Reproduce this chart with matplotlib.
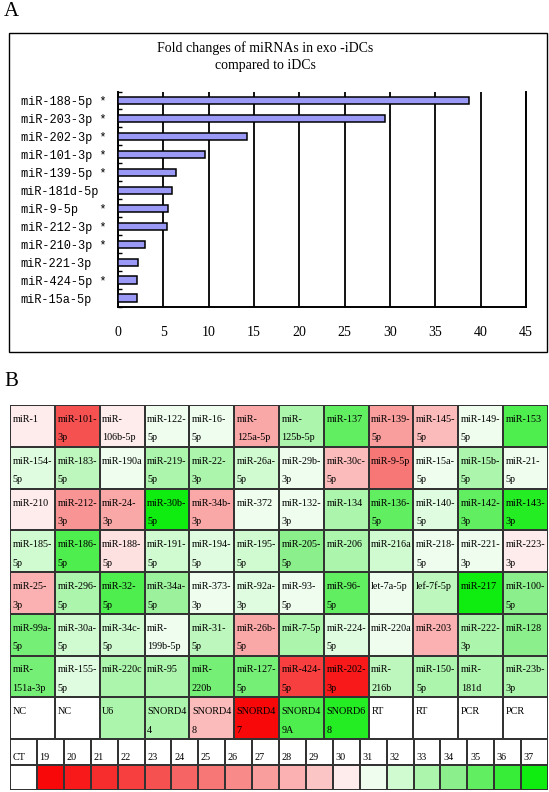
import numpy as np
import matplotlib
import matplotlib.pyplot as plt
from matplotlib.colors import LinearSegmentedColormap, Normalize
from matplotlib.patches import Rectangle

matplotlib.use('Agg')

# ---- panel A data ----
mirnas = ["miR-188-5p *", "miR-203-3p *", "miR-202-3p *", "miR-101-3p *",
          "miR-139-5p *", "miR-181d-5p", "miR-9-5p   *", "miR-212-3p *",
          "miR-210-3p *", "miR-221-3p", "miR-424-5p *", "miR-15a-5p"]
fold_change = [38.7, 29.5, 14.25, 9.55, 6.4, 5.98, 5.5, 5.4, 3.03, 2.25, 2.14, 2.14]
x_ticks = [0, 5, 10, 15, 20, 25, 30, 35, 40, 45]

# ---- panel B data ----
cell_labels = [
    ["miR-1", "miR-101-\n3p", "miR-\n106b-5p", "miR-122-\n5p", "miR-16-\n5p", "miR-\n125a-5p",
     "miR-\n125b-5p", "miR-137", "miR-139-\n5p", "miR-145-\n5p", "miR-149-\n5p", "miR-153"],
    ["miR-154-\n5p", "miR-183-\n5p", "miR-190a", "miR-219-\n5p", "miR-22-\n3p", "miR-26a-\n5p",
     "miR-29b-\n3p", "miR-30c-\n5p", "miR-9-5p", "miR-15a-\n5p", "miR-15b-\n5p", "miR-21-\n5p"],
    ["miR-210", "miR-212-\n3p", "miR-24-\n3p", "miR-30b-\n5p", "miR-34b-\n3p", "miR-372",
     "miR-132-\n3p", "miR-134", "miR-136-\n5p", "miR-140-\n5p", "miR-142-\n3p", "miR-143-\n3p"],
    ["miR-185-\n5p", "miR-186-\n5p", "miR-188-\n5p", "miR-191-\n5p", "miR-194-\n5p", "miR-195-\n5p",
     "miR-205-\n5p", "miR-206", "miR-216a", "miR-218-\n5p", "miR-221-\n3p", "miR-223-\n3p"],
    ["miR-25-\n3p", "miR-296-\n5p", "miR-32-\n5p", "miR-34a-\n5p", "miR-373-\n3p", "miR-92a-\n3p",
     "miR-93-\n5p", "miR-96-\n5p", "let-7a-5p", "lef-7f-5p", "miR-217", "miR-100-\n5p"],
    ["miR-99a-\n5p", "miR-30a-\n5p", "miR-34c-\n5p", "miR-\n199b-5p", "miR-31-\n5p", "miR-26b-\n5p",
     "miR-7-5p", "miR-224-\n5p", "miR-220a", "miR-203", "miR-222-\n3p", "miR-128"],
    ["miR-\n151a-3p", "miR-155-\n5p", "miR-220c", "miR-95", "miR-\n220b", "miR-127-\n5p",
     "miR-424-\n5p", "miR-202-\n3p", "miR-\n216b", "miR-150-\n5p", "miR-\n181d", "miR-23b-\n3p"],
    ["NC", "NC", "U6", "SNORD4\n4", "SNORD4\n8", "SNORD4\n7",
     "SNORD4\n9A", "SNORD6\n8", "RT", "RT", "PCR", "PCR"],
]
nan = np.nan
ct_values = [
    [30, 23, 30, 31, 31, 27.5, 33, 35, 27, 28.5, 31, 35.5],
    [31.5, 32.5, 31, 33, 33, 32, 31, 28.5, 25, 31, 33, 31],
    [30, 26.5, 27.5, 37, 27.5, 31, 31, 33, 35, 31.5, 35, 36.5],
    [32, 35.5, 29.7, 32, 31.5, 32, 34, 33, 32, 31, 31, 30],
    [28, 33, 35.5, 33.5, 31, 31.5, 31, 35, 31, 32.5, 37, 34],
    [34.5, 32, 32, 31, 32.5, 27.5, 33, 31.5, 31, 28, 33, 34],
    [34.5, 31.5, 33, 33, 34.5, 34.5, 22, 20, 32.5, 33, 33, 33],
    [nan, nan, 33, 33, 28.5, 19, 35.5, 36.5, nan, nan, nan, nan],
]
ct_levels = list(range(19, 38))

# red -> white -> green scale on CT 19..37
ct_min, ct_max = 19, 37
anchors = [(19, "#f80808"), (24, "#f66464"), (29, "#fcc4c4"), (30.5, "#ffffff"),
           (32, "#d0fad0"), (34, "#8cf08c"), (37, "#0fec0f")]
cmap = LinearSegmentedColormap.from_list(
    "ct", [((v - ct_min) / (ct_max - ct_min), c) for v, c in anchors])
cmap.set_bad("white")
norm = Normalize(ct_min, ct_max)

W, H = 549, 792
fig = plt.figure(figsize=(W / 100, H / 100), dpi=100)
serif = "Liberation Serif"

def fx(px):
    return px / W

def fy(py):
    return 1 - py / H

# ---------------- Panel A ----------------
fig.text(fx(4), fy(12), "A", fontsize=15, family=serif, va="center", ha="left")
fig.patches.append(Rectangle((fx(9), fy(352)), fx(538), 319 / H, transform=fig.transFigure,
                             fill=False, edgecolor="black", lw=1.0))
fig.text(fx(265), fy(48), "Fold changes of miRNAs in exo -iDCs", fontsize=10, family=serif,
         ha="center", va="center")
fig.text(fx(265), fy(66), "compared to iDCs", fontsize=10, family=serif, ha="center", va="center")

ax = fig.add_axes([fx(118), fy(307), fx(408), 215.5 / H])
ypos = np.arange(len(mirnas))
ax.barh(ypos, fold_change, height=0.4, color="#9a9af6", edgecolor="black", lw=1.1, zorder=3)
ax.set_xlim(0, 45)
ax.set_ylim(len(mirnas) - 0.5, -0.5)
ax.set_xticks(x_ticks)
ax.set_xticklabels([str(t) for t in x_ticks], family=serif, fontsize=10)
ax.tick_params(axis="x", length=0, pad=14)
ax.set_yticks(ypos)
ax.set_yticklabels(mirnas, family="Liberation Mono", fontsize=8.6)
for lab in ax.get_yticklabels():
    lab.set_horizontalalignment("left")
ax.tick_params(axis="y", which="major", length=0, pad=70)
ax.set_yticks(np.arange(-0.5, len(mirnas), 1.0), minor=True)
ax.tick_params(axis="y", which="minor", direction="in", length=3, width=1.0, color="black")
ax.grid(axis="x", color="black", lw=1.3, zorder=1)
ax.spines["top"].set_visible(False)
for s in ["left", "bottom", "right"]:
    ax.spines[s].set_linewidth(1.4)
    ax.spines[s].set_color("black")

# ---------------- Panel B ----------------
fig.text(fx(4), fy(381), "B", fontsize=15, family=serif, va="center", ha="left")

n_rows, n_cols = len(cell_labels), len(cell_labels[0])
grid_top, grid_bot = 405, 739
row_px = (grid_bot - grid_top) / n_rows
col_px = 538 / n_cols
axh = fig.add_axes([fx(10), fy(grid_bot), fx(538), (grid_bot - grid_top) / H])
axh.pcolormesh(np.ma.masked_invalid(np.array(ct_values, dtype=float)), cmap=cmap, norm=norm,
               edgecolors="#333333", linewidth=1.2)
axh.set_xlim(0, n_cols)
axh.set_ylim(n_rows, 0)
axh.axis("off")
for r, row in enumerate(cell_labels):
    for c, lab in enumerate(row):
        for k, line in enumerate(lab.split("\n")):
            axh.text(c + 2.6 / col_px, r + (14.5 + 18.5 * k) / row_px, line, family=serif,
                     fontsize=7.3, ha="left", va="center")

# CT legend
leg_top, leg_mid, leg_bot = 739, 765, 790
n_leg = len(ct_levels) + 1
axl = fig.add_axes([fx(10), fy(leg_bot), fx(538), (leg_bot - leg_top) / H])
leg_vals = np.array([[nan] * n_leg, [nan] + ct_levels], dtype=float)
axl.pcolormesh(np.arange(n_leg + 1), [0, leg_mid - leg_top, leg_bot - leg_top],
               np.ma.masked_invalid(leg_vals), cmap=cmap, norm=norm,
               edgecolors="#333333", linewidth=1.2)
axl.set_xlim(0, n_leg)
axl.set_ylim(leg_bot - leg_top, 0)
axl.axis("off")
leg_text = ["CT"] + [str(v) for v in ct_levels]
for i, t in enumerate(leg_text):
    axl.text(i + 0.1, 18, t, family=serif, fontsize=7.3, ha="left", va="center")

fig.savefig("out.png", dpi=100)
